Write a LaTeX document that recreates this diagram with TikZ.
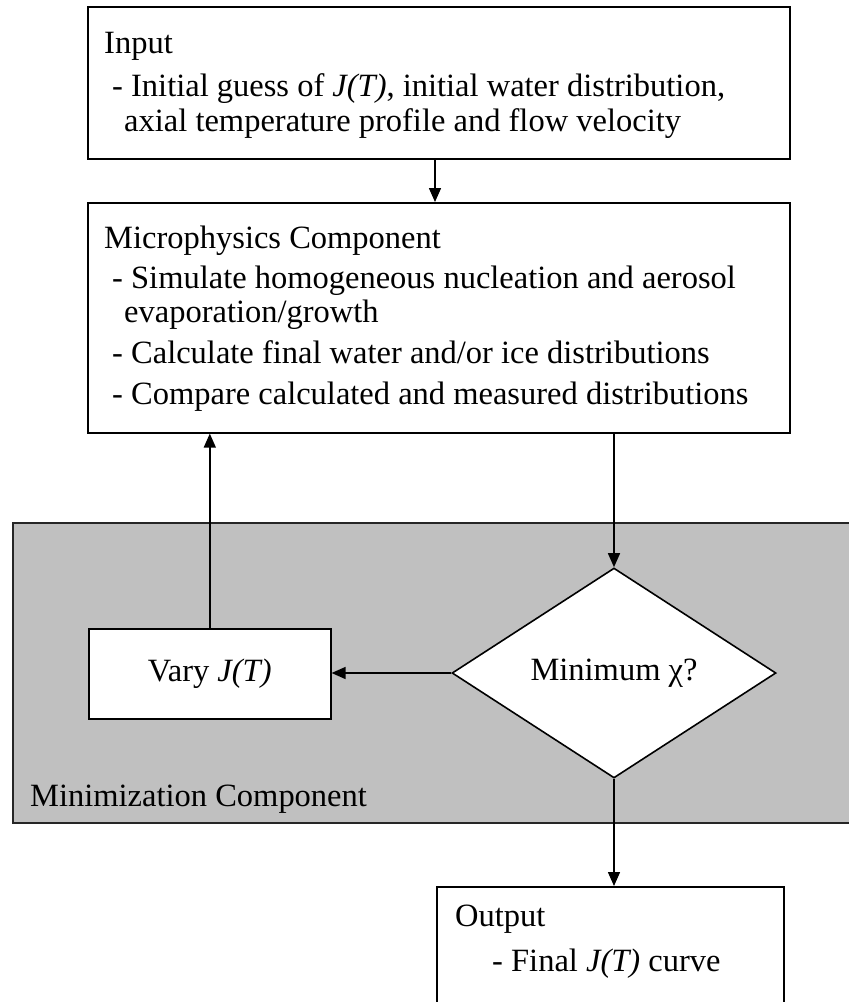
\documentclass[tikz,border=0pt]{standalone}
\usepackage{fontspec}
\setmainfont{Liberation Serif}
\usetikzlibrary{arrows.meta,shapes.geometric}
\definecolor{panelgrey}{HTML}{C0C0C0}
\begin{document}
\begin{tikzpicture}[x=1pt,y=-1pt,
  box/.style={draw=black,line width=1.6pt,fill=white,inner sep=0pt,anchor=north west},
  bigfont/.style={font=\fontsize{32.5}{38}\selectfont},
  txt/.style={anchor=base west,inner sep=0pt,bigfont},
  link/.style={line width=1.5pt,-{Triangle[length=14pt,width=12pt]}}]
\useasboundingbox (0,0) rectangle (849,1002);
\fill[white] (0,0) rectangle (849,1002);

% minimization panel
\node[box,fill=panelgrey,draw=black!85,minimum width=850pt,minimum height=300pt] (minpanel) at (12,522) {};
\node[txt] (mintitle) at (30,806) {Minimization Component};

% input box
\node[box,minimum width=702pt,minimum height=152pt] (input) at (87,6) {};
\node[txt] (inputtitle) at (104,53) {Input};
\node[txt] (input1) at (112,96) {- Initial guess of \textit{J(T)}, initial water distribution,};
\node[txt] (input2) at (124,131) {axial temperature profile and flow velocity};

% microphysics box
\node[box,minimum width=702pt,minimum height=230pt] (micro) at (87,202) {};
\node[txt] (microtitle) at (104,248) {Microphysics Component};
\node[txt] (micro1) at (112,288) {- Simulate homogeneous nucleation and aerosol};
\node[txt] (micro2) at (124,322) {evaporation/growth};
\node[txt] (micro3) at (112,363) {- Calculate final water and/or ice distributions};
\node[txt] (micro4) at (112,404) {- Compare calculated and measured distributions};

% vary box
\node[box,minimum width=242pt,minimum height=90pt,bigfont] (vary) at (88,628) {Vary \textit{J(T)}};

% decision
\node[draw=black,line width=1.6pt,fill=white,shape=diamond,inner sep=0pt,
      minimum width=324pt,minimum height=210pt,bigfont] (dec) at (614,673) {Minimum χ?};

% output box
\node[box,minimum width=347pt,minimum height=140pt] (output) at (436,886) {};
\node[txt] (outtitle) at (455,926) {Output};
\node[txt] (out1) at (492,971) {- Final \textit{J(T)} curve};

% connectors
\draw[link] (input.south -| 435,0) -- (micro.north -| 435,0);
\draw[link] (vary.north) -- (vary.north |- micro.south);
\draw[link] (dec.north |- micro.south) -- (dec.north);
\draw[link] (dec.west) -- (dec.west -| vary.east);
\draw[link] (dec.south) -- (dec.south |- output.north);
\end{tikzpicture}
\end{document}
